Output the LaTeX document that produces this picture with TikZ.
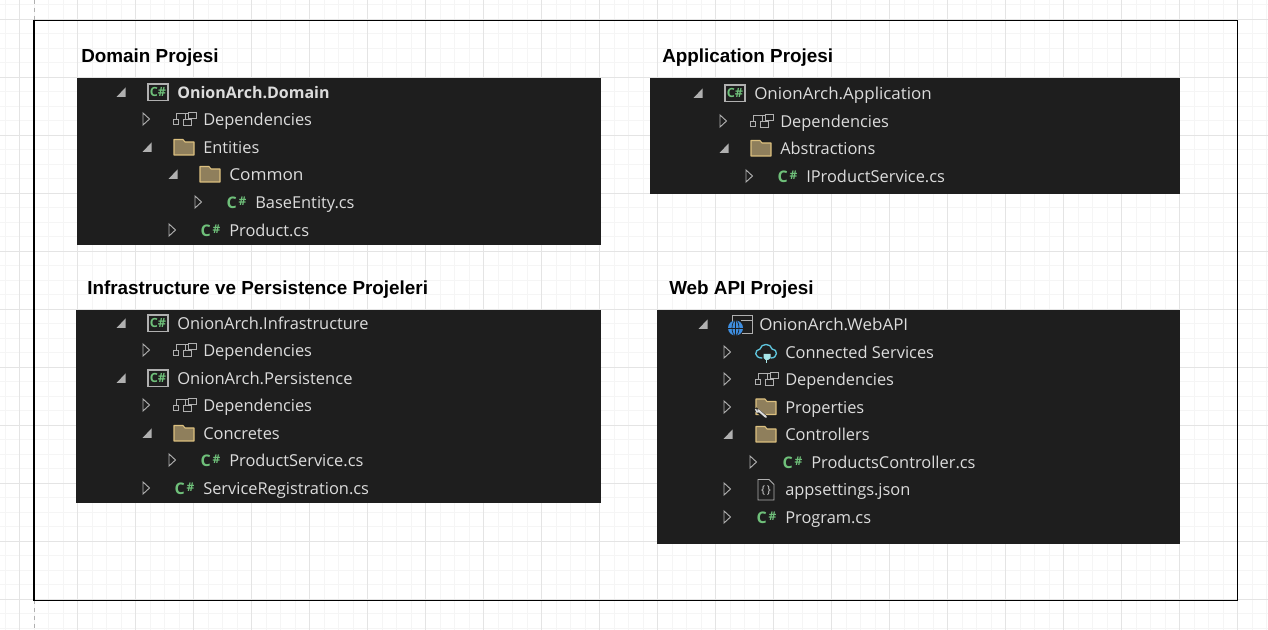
\documentclass[tikz,border=0pt]{standalone}
\usepackage{graphicx}
\usepackage{fontspec}
\setmainfont{Open Sans}
\newfontfamily\titlefont{Liberation Sans}
\definecolor{panelbg}{HTML}{1E1E1E}
\definecolor{treetext}{HTML}{DCDCDC}
\definecolor{treegrey}{HTML}{B0B0B0}
\definecolor{csgreen}{HTML}{6FC07A}
\definecolor{folderfill}{HTML}{8F7F5C}
\definecolor{folderedge}{HTML}{DCC07F}
\definecolor{gridmajor}{HTML}{E4E4E4}
\definecolor{gridminor}{HTML}{F5F5F5}
\definecolor{webblue}{HTML}{3E8EE0}
\definecolor{cloudblue}{HTML}{5FC4DC}
\definecolor{plugblue}{HTML}{A8E6E8}
\tikzset{
  x=0.75pt,y=-0.75pt,
  panel/.style={fill=panelbg,draw=none},
  heading/.style={anchor=base west,inner sep=0pt,font=\titlefont\bfseries\fontsize{14.15pt}{16pt}\selectfont,text=black},
  treelabel/.style={anchor=base west,inner sep=0pt,font=\fontsize{12.3pt}{14pt}\selectfont,text=treetext},
  iconline/.style={draw=treegrey,line width=0.7pt},
  csharp/.style={anchor=center,inner sep=0pt,font=\fontsize{12pt}{12pt}\selectfont\bfseries,text=csgreen},
}
\newcommand{\closedtri}[2]{\draw[iconline,line join=miter] (#1-3,#2-6) -- (#1+3.5,#2) -- (#1-3,#2+6) -- cycle;}
\newcommand{\opentri}[2]{\fill[treegrey] (#1+4.5,#2-4.5) -- (#1+4.5,#2+5) -- (#1-4.5,#2+5) -- cycle;}
\newcommand{\lab}[4]{\node[treelabel] (#1) at (#2,#3+7) {#4};}
\newcommand{\wide}[2]{\scalebox{#1}[1]{#2}}
\newcommand{\csicon}[2]{\node[csharp] at (#1+0.5,#2+0.5) {C\hspace{1.2pt}\raisebox{2.2pt}{\fontsize{9pt}{9pt}\selectfont\bfseries\#}};}
\newcommand{\projicon}[2]{\draw[draw=treegrey,fill=panelbg,line width=0.95pt] (#1-10,#2-8) rectangle (#1+10,#2+8.5);
  \node[csharp,font=\fontsize{9.5pt}{9pt}\selectfont\bfseries] at (#1,#2) {C\#};}
\newcommand{\foldericon}[2]{\draw[draw=folderedge,fill=folderfill,line width=0.8pt,line join=round] (#1-10,#2+8) -- (#1-10,#2-7.5) -- (#1-1,#2-7.5) -- (#1+1,#2-5) -- (#1+10,#2-5) -- (#1+10,#2+8) -- cycle;}
\newcommand{\depicon}[2]{\draw[iconline] (#1-11,#2) rectangle (#1-5.5,#2+5);
  \draw[iconline] (#1-1,#2) rectangle (#1+7,#2+6.5);
  \draw[iconline] (#1+4,#2-7) rectangle (#1+12,#2-0.5);
  \draw[iconline] (#1-8,#2) -- (#1-8,#2-5.5) -- (#1+4,#2-5.5);
  \draw[iconline] (#1+1,#2-5.5) -- (#1+1,#2);}
\begin{document}
\begin{tikzpicture}
\useasboundingbox (0,0) rectangle (1268,630);
\fill[white] (0,0) rectangle (1268,630);
% page grid
\foreach \k in {0,...,87} {
  \draw[gridminor,line width=0.75pt] ({5+14.5*\k},0) -- ({5+14.5*\k},630);
}
\foreach \k in {0,...,43} {
  \draw[gridminor,line width=0.75pt] (0,{5+14.5*\k}) -- (1268,{5+14.5*\k});
}
\foreach \k in {0,...,21} {
  \draw[gridmajor,line width=0.75pt] ({19.5+58*\k},0) -- ({19.5+58*\k},630);
}
\foreach \k in {0,...,10} {
  \draw[gridmajor,line width=0.75pt] (0,{19.5+58*\k}) -- (1268,{19.5+58*\k});
}
% page edge
\draw[treegrey,dashed,line width=0.75pt] (34,0) -- (34,20);
\draw[treegrey,dashed,line width=0.75pt] (34,600) -- (34,630);
% frame
\draw[black,line width=1.2pt] (34,20.5) rectangle (1237.5,600.5);

% headings
\node[heading] (h1) at (81,63) {Domain Projesi};
\node[heading] (h2) at (662,63) {Application Projesi};
\node[heading] (h3) at (87,295) {Infrastructure ve Persistence Projeleri};
\node[heading] (h4) at (669,295) {Web API Projesi};

% panels
\fill[panel] (77,78) rectangle (601,245);
\fill[panel] (650,78) rectangle (1180,194);
\fill[panel] (76,310) rectangle (601,503);
\fill[panel] (657,310) rectangle (1180,544);

% Domain
\opentri{121}{92}\projicon{158}{92}
\node[treelabel,font=\fontsize{12pt}{14pt}\selectfont\bfseries] (d1) at (177,98.5) {OnionArch.Domain};
\closedtri{146}{119}\depicon{184}{119}\lab{d2}{203}{119}{Dependencies}
\opentri{147}{147}\foldericon{184}{147}\lab{d3}{203}{147}{Entities}
\opentri{173}{174}\foldericon{210}{174}\lab{d4}{229}{174}{\wide{1.05}{Common}}
\closedtri{198}{202}\csicon{236}{202}\lab{d5}{255}{202}{BaseEntity.cs}
\closedtri{172}{230}\csicon{210}{230}\lab{d6}{229}{230}{Product.cs}

% Application
\opentri{698}{93}\projicon{735}{93}\lab{a1}{754}{93}{\wide{1.035}{OnionArch.Application}}
\closedtri{723}{121}\depicon{761}{121}\lab{a2}{780}{121}{Dependencies}
\opentri{724}{148}\foldericon{761}{148}\lab{a3}{780}{148}{Abstractions}
\closedtri{749}{176}\csicon{787}{176}\lab{a4}{806}{176}{IProductService.cs}

% Infrastructure / Persistence
\opentri{121}{323}\projicon{158}{323}\lab{i1}{177}{323}{OnionArch.Infrastructure}
\closedtri{146}{350}\depicon{184}{350}\lab{i2}{203}{350}{Dependencies}
\opentri{121}{378}\projicon{158}{378}\lab{i3}{177}{378}{\wide{1.01}{OnionArch.Persistence}}
\closedtri{146}{405}\depicon{184}{405}\lab{i4}{203}{405}{Dependencies}
\opentri{147}{433}\foldericon{184}{433}\lab{i5}{203}{433}{Concretes}
\closedtri{172}{460}\csicon{210}{460}\lab{i6}{229}{460}{ProductService.cs}
\closedtri{146}{488}\csicon{184}{488}\lab{i7}{203}{488}{ServiceRegistration.cs}

% Web API
\opentri{703}{324}
\draw[iconline] (732,315) -- (752,315) -- (752,333) -- (742,333);
\draw[iconline] (732,315) -- (732,322);
\draw[iconline] (741,320) -- (752,320);
\fill[webblue] (735.5,328) circle (7.5);
\draw[panelbg,line width=0.5pt] (728,328) -- (743,328) (735.5,320.5) -- (735.5,335.5);
\draw[panelbg,line width=0.5pt] (735.5,328) ellipse (3.5 and 7.5);
\lab{w1}{759}{324}{\wide{1.035}{OnionArch.WebAPI}}
\closedtri{727}{352}
\draw[draw=cloudblue,line width=1pt,line cap=round] (762,358) .. controls (754,358) and (754,350) .. (760,349) .. controls (761,343) and (771,343) .. (772,349) .. controls (778,349) and (778,358) .. (771,358);
\fill[plugblue] (763.5,354) -- (770.5,354) -- (770.5,358) -- (768,360) -- (765.5,360) -- (763.5,358) -- cycle;
\draw[draw=plugblue,line width=0.9pt] (766.8,359) -- (766.8,363);
\lab{w2}{785}{352}{Connected Services}
\closedtri{727}{379}\depicon{766}{379}\lab{w3}{785}{379}{Dependencies}
\closedtri{727}{407}\foldericon{766}{406.5}
\draw[panelbg,line width=3pt] (755,409) -- (768,419);
\draw[draw=treetext,line width=1.5pt,line cap=round] (758,410) -- (766,417);
\draw[draw=treetext,line width=1.1pt] (755.5,409) -- (757,412) -- (760,411.5);
\lab{w4}{785}{407}{Properties}
\opentri{728}{434}\foldericon{766}{434}\lab{w5}{785}{434}{Controllers}
\closedtri{753}{462}\csicon{792}{462}\lab{w6}{811}{462}{ProductsController.cs}
\closedtri{727}{489}
\draw[iconline] (758,479.5) -- (769,479.5) -- (774,484.5) -- (774,500) -- (758,500) -- cycle;
\node[anchor=center,inner sep=0pt,font=\fontsize{8pt}{8pt}\selectfont,text=treetext] at (766,491) {\{\,\}};
\lab{w7}{785}{489}{appsettings.json}
\closedtri{727}{517}\csicon{766}{517}\lab{w8}{785}{517}{Program.cs}
\end{tikzpicture}
\end{document}
